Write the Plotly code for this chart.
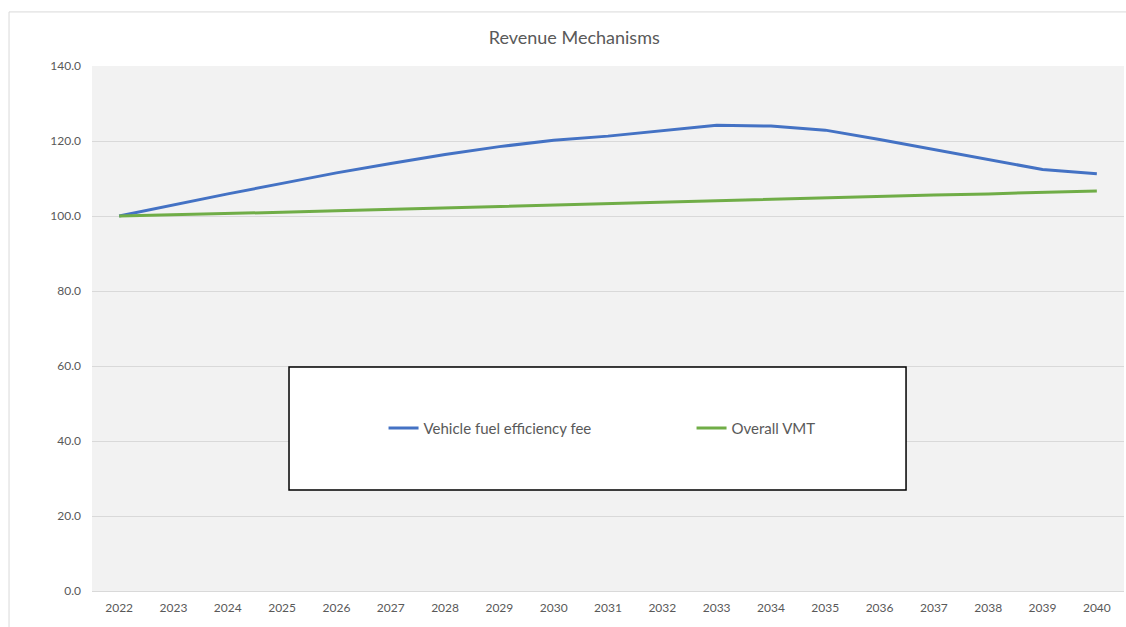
import plotly.graph_objects as go

years = [str(y) for y in range(2022, 2041)]
fuel_fee = [100.0, 103.0, 105.9, 108.7, 111.5, 114.0, 116.4, 118.5, 120.2, 121.3,
            122.8, 124.2, 124.0, 122.9, 120.4, 117.7, 115.1, 112.4, 111.3]
overall_vmt = [100.0, 100.3, 100.6, 101.0, 101.4, 101.8, 102.2, 102.5, 102.8, 103.2,
               103.6, 104.0, 104.4, 104.8, 105.2, 105.6, 105.9, 106.3, 106.7]
y_ticks = [0, 20, 40, 60, 80, 100, 120, 140]

FONT = "Lato, 'Open Sans', sans-serif"
GRAY = "#595959"

fig = go.Figure()
fig.add_trace(go.Scatter(x=years, y=fuel_fee, mode="lines", name="Vehicle fuel efficiency fee",
                         line=dict(color="#4472C4", width=3)))
fig.add_trace(go.Scatter(x=years, y=overall_vmt, mode="lines", name="Overall VMT",
                         line=dict(color="#70AD47", width=3)))

fig.update_layout(
    width=1126, height=627,
    margin=dict(l=92, r=2, t=66, b=36),
    paper_bgcolor="white",
    plot_bgcolor="#f2f2f2",
    font=dict(family=FONT, color=GRAY, size=12),
    title=dict(text="Revenue Mechanisms", x=0.51, xanchor="center", y=0.94, yanchor="middle",
               font=dict(size=18, color=GRAY, family=FONT)),
    xaxis=dict(type="category", range=[-0.5, 18.5], showgrid=False, showline=False,
               ticks="", ticklabelstandoff=8, tickfont=dict(size=12, color=GRAY)),
    yaxis=dict(range=[0, 140], tickvals=y_ticks, tickformat=".1f", showgrid=True,
               gridcolor="#d9d9d9", gridwidth=1, zeroline=True, zerolinecolor="#d9d9d9",
               zerolinewidth=1, showline=False, ticks="", ticklabelstandoff=10,
               tickfont=dict(size=12, color=GRAY)),
    legend=dict(orientation="h", x=0.2825, xanchor="left", y=0.31, yanchor="middle",
                bgcolor="rgba(0,0,0,0)", borderwidth=0,
                entrywidth=263, entrywidthmode="pixels",
                font=dict(size=15, color=GRAY, family=FONT)),
    shapes=[
        dict(type="rect", xref="paper", yref="paper", x0=0.1909, x1=0.7888, y0=0.1924, y1=0.4267,
             line=dict(color="black", width=1.5), fillcolor="white", layer="above"),
        dict(type="rect", xref="paper", yref="paper", x0=-0.0804, x1=1.05, y0=-0.2, y1=1.103,
             line=dict(color="#d9d9d9", width=1), fillcolor="rgba(0,0,0,0)", layer="below"),
    ],
)

fig.write_html("out.html", config={"displayModeBar": False},
               post_script="document.body.style.margin='0';document.body.style.overflow='hidden';")
